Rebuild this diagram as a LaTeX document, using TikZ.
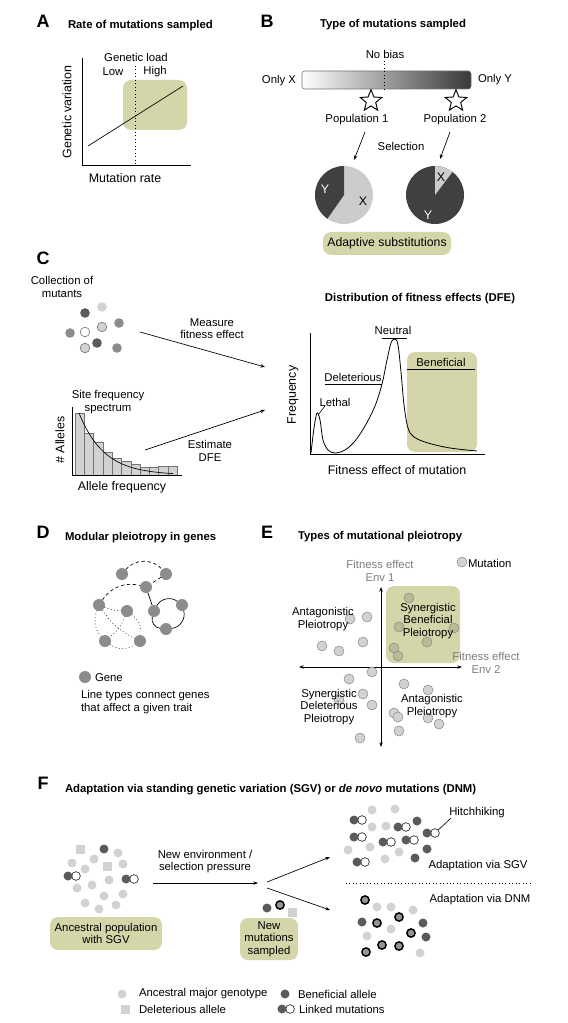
\documentclass[tikz,border=0pt]{standalone}
\usepackage{fontspec}
\setmainfont{Liberation Sans}
\usetikzlibrary{shapes.geometric,arrows.meta}
\definecolor{olivebox}{RGB}{213,213,170}
\definecolor{dkdot}{RGB}{90,90,90}
\definecolor{ltdot}{RGB}{210,210,210}
\definecolor{mddot}{RGB}{140,140,140}
\definecolor{genec}{RGB}{140,140,140}
\definecolor{txtgray}{RGB}{125,125,125}
\definecolor{piedark}{RGB}{64,64,64}
\definecolor{pielight}{RGB}{204,204,204}
\definecolor{mutin}{RGB}{186,186,150}
\begin{document}
\begin{tikzpicture}[x=0.75pt,y=-0.75pt,
  every node/.style={font=\fontsize{8.5}{9.2}\selectfont, inner sep=0pt, outer sep=0pt},
  paneltitle/.style={font=\fontsize{8.5}{10}\selectfont\bfseries, anchor=west},
  panelletter/.style={font=\fontsize{13.5}{15}\selectfont\bfseries},
  axlab/.style={font=\fontsize{9.3}{11}\selectfont},
  boxlab/.style={fill=olivebox, rounded corners=6pt, align=center},
  thinline/.style={line width=0.55pt},
  arr/.style={-{Stealth[length=3.5pt,width=2.6pt]}, line width=0.5pt},
  cdot/.style={circle, minimum size=7.2pt},
  gene/.style={circle, fill=genec, minimum size=9pt},
  mut/.style={circle, fill=ltdot, draw=black!45, line width=0.4pt, minimum size=7.5pt},
  mutinbox/.style={circle, fill=mutin, draw=black!45, line width=0.4pt, minimum size=7.5pt},
  fl/.style={circle, fill=ltdot, minimum size=6.75pt},
  fd/.style={circle, fill=dkdot, minimum size=6.75pt},
  fw/.style={circle, fill=white, draw=black, line width=0.4pt, minimum size=6.5pt},
  fsq/.style={rectangle, fill=ltdot, minimum size=6.75pt},
  fnew/.style={circle, fill=black!42, draw=black, line width=1.1pt, minimum size=6.2pt},
  mystar/.style={star, star points=5, star point ratio=2.3, draw, line width=0.7pt, minimum size=17pt}]
\useasboundingbox (0,0) rectangle (567,1023);

% ---------------- A
\node[panelletter] (lA) at (43,21) {A};
\node[paneltitle] (tA) at (68,26) {Rate of mutations sampled};
\fill[olivebox, rounded corners=6pt] (123,80) rectangle (187,130);
\coordinate (Atop) at (82,58);
\coordinate (Aorig) at (82,165);
\coordinate (Aright) at (191,165);
\draw[thinline] (Atop) -- (Aorig) -- (Aright);
\coordinate (Ad1) at (135,66);
\coordinate (Ad2) at (135,165);
\draw[dotted, line width=0.6pt] (Ad1) -- (Ad2);
\coordinate (Al1) at (88,146);
\coordinate (Al2) at (183,86);
\draw[line width=0.5pt] (Al1) -- (Al2);
\node[axlab, rotate=90] (yA) at (67,112) {Genetic variation};
\node[axlab] (xA) at (125,178) {Mutation rate};
\node (gl) at (136,57) {Genetic load};
\node (low) at (113,72) {Low};
\node (high) at (155,72) {High};

% ---------------- B
\node[panelletter] (lB) at (267,21) {B};
\node[paneltitle, anchor=center] (tB) at (393,25) {Type of mutations sampled};
\node (nob) at (385,54) {No bias};
\shade[left color=white, right color=black!78, draw=black!55, line width=0.4pt, rounded corners=2pt] (302,71) rectangle (471,89);
\coordinate (Bd1) at (384,61);
\coordinate (Bd2) at (384,89);
\draw[dotted, line width=0.6pt] (Bd1) -- (Bd2);
\node[anchor=east] (ox) at (296,81) {Only X};
\node[anchor=west] (oy) at (478,80) {Only Y};
\node[mystar] (st1) at (371,101) {};
\node[mystar] (st2) at (456,101) {};
\node (pop1) at (357,120) {Population 1};
\node (pop2) at (455,120) {Population 2};
\node (sel) at (401,146) {Selection};
\coordinate (b1s) at (365,132);
\coordinate (b1e) at (354,160);
\coordinate (b2s) at (450,132);
\coordinate (b2e) at (440,159);
\draw[arr] (b1s) -- (b1e);
\draw[arr] (b2s) -- (b2e);
\coordinate (pie1) at (344,195);
\coordinate (pie2) at (435,195);
\fill[pielight] (pie1) circle[radius=29];
\fill[piedark] (pie1) -- ++(-90:29) arc[start angle=-90, end angle=-235, radius=29] -- cycle;
\fill[piedark] (pie2) circle[radius=29];
\fill[pielight] (pie2) -- ++(-53:29) arc[start angle=-53, end angle=-90, radius=29] -- cycle;
\node[axlab, text=white] (py1) at (325,189) {Y};
\node[axlab] (px1) at (363,201) {X};
\node[axlab] (px2) at (441,177) {X};
\node[axlab, text=white] (py2) at (428,215) {Y};
\node[boxlab, font=\fontsize{9.2}{11}\selectfont, minimum width=96pt, minimum height=17.25pt] (adapt) at (387,243.5) {Adaptive substitutions};

% ---------------- C
\node[panelletter] (lC) at (43,258) {C};
\node[align=center] (coll) at (62,287) {Collection of\\mutants};
\node[cdot, fill=dkdot] (cd1) at (85,313) {};
\node[cdot, fill=ltdot] (cd2) at (102,307) {};
\node[cdot, fill=mddot] (cd3) at (119,323) {};
\node[cdot, fill=mddot] (cd4) at (70,333) {};
\node[cdot, fill=white, draw=black!60, line width=0.4pt] (cd5) at (85,332) {};
\node[cdot, fill=ltdot, draw=black!60, line width=0.4pt] (cd6) at (102,327) {};
\node[cdot, fill=dkdot] (cd7) at (97,343) {};
\node[cdot, fill=ltdot, draw=black!60, line width=0.4pt] (cd8) at (85,348) {};
\node[cdot, fill=mddot] (cd9) at (117,348) {};
\node[align=center] (meas) at (212,329) {Measure\\fitness effect};
\coordinate (c1s) at (140,332);
\coordinate (c1e) at (265,367);
\draw[arr] (c1s) -- (c1e);
\coordinate (c2s) at (145,450);
\coordinate (c2e) at (265,410);
\draw[arr] (c2s) -- (c2e);
\node[align=center] (est) at (210,451) {Estimate\\DFE};
% histogram
\foreach \h [count=\i] in {413,433,442,452,458,461,464,467,467,466,466} {
  \draw[fill=ltdot, draw=black!55, line width=0.4pt] ({75+(\i-1)*9.3},475) rectangle ({75+\i*9.3},\h);
}
\coordinate (Htop) at (72,407);
\coordinate (Horig) at (72,475);
\coordinate (Hright) at (182,475);
\draw[thinline] (Htop) -- (Horig) -- (Hright);
\draw[line width=0.5pt] plot[domain=79:173, samples=40] (\x,{475-62*exp(-(\x-79)/25)});
\node[align=center] (sfs) at (108,402) {Site frequency\\spectrum};
\node[axlab, rotate=90] (yC) at (60,440) {\# Alleles};
\node[axlab] (xC) at (122,487) {Allele frequency};
% DFE
\node[paneltitle, anchor=center] (tC) at (420,299) {Distribution of fitness effects (DFE)};
\fill[olivebox, rounded corners=6pt] (407,352) rectangle (477,452);
\coordinate (Dtop) at (310,333);
\coordinate (Dorig) at (310,454);
\coordinate (Dright) at (485,454);
\draw[thinline] (Dtop) -- (Dorig) -- (Dright);
\draw[line width=0.6pt] plot[smooth, tension=0.55] coordinates {(311,453) (314,428) (317,413) (320,420) (323,440) (328,450) (335,453) (345,450) (355,441) (365,426) (375,406) (382,384) (387,360) (391,343) (395,339) (398,345) (401,372) (404,405) (408,428) (414,437) (428,443) (450,448) (477,451)};
\node (ben) at (441,362) {Beneficial};
\coordinate (bu1) at (407,369);
\coordinate (bu2) at (475,369);
\draw[thinline] (bu1) -- (bu2);
\node (neu) at (393,330) {Neutral};
\coordinate (nu1) at (382,338);
\coordinate (nu2) at (407,338);
\draw[thinline] (nu1) -- (nu2);
\node (del) at (353,377) {Deleterious};
\coordinate (du1) at (325,384);
\coordinate (du2) at (382,384);
\draw[thinline] (du1) -- (du2);
\node (leth) at (335,402) {Lethal};
\coordinate (lp1) at (325,406);
\coordinate (lp2) at (318,415);
\draw[line width=0.45pt] (lp1) -- (lp2);
\node[axlab, rotate=90] (yD) at (293,395) {Frequency};
\node[axlab] (xD) at (397,470) {Fitness effect of mutation};

% ---------------- D
\node[panelletter] (lD) at (43,532) {D};
\node[paneltitle] (tD) at (65,538) {Modular pleiotropy in genes};
\node[gene] (g1) at (122,574) {};
\node[gene] (g2) at (166,574) {};
\node[gene] (g3) at (146,587) {};
\node[gene] (g4) at (99,605) {};
\node[gene] (g5) at (127,611) {};
\node[gene] (g6) at (154,611) {};
\node[gene] (g7) at (182,605) {};
\node[gene] (g8) at (166,629) {};
\node[gene] (g9) at (105,641) {};
\node[gene] (g10) at (140,641) {};
\begin{scope}[line width=0.5pt]
\draw[dash pattern=on 2.5pt off 2pt] (g1) to[bend left=50] (g2);
\draw[dash pattern=on 2.5pt off 2pt] (g2) -- (g3);
\draw[dash pattern=on 2.5pt off 2pt] (g4) to[bend left=35] (g3);
\draw (g3) -- (g6);
\draw (g6) to[bend left=50] (g7);
\draw (g7) to[bend left=50] (g8);
\draw (g8) to[bend left=50] (g6);
\draw[dotted] (g4) to[bend right=10] (g5);
\draw[dotted] (g4) to[bend right=30] (g9);
\draw[dotted] (g4) to[bend right=15] (g10);
\draw[dotted] (g5) to[bend left=15] (g9);
\draw[dotted] (g5) to[bend left=30] (g10);
\draw[dotted] (g9) to[bend right=35] (g10);
\end{scope}
\node[gene] (gleg) at (85,677) {};
\node[anchor=west] (glegt) at (95,678) {Gene};
\node[anchor=west, align=left] (gtxt) at (81,702) {Line types connect genes\\that affect a given trait};

% ---------------- E
\node[panelletter] (lE) at (267,532) {E};
\node[paneltitle] (tE) at (298,537) {Types of mutational pleiotropy};
\fill[olivebox, rounded corners=6pt] (386,586) rectangle (460,663);
\coordinate (Eleft) at (299,667);
\coordinate (Eright) at (462,667);
\coordinate (Etop) at (381,587);
\coordinate (Ebot) at (381,747);
\draw[{Stealth[length=3.5pt,width=2.6pt]}-{Stealth[length=3.5pt,width=2.6pt]}, line width=0.6pt] (Eleft) -- (Eright);
\draw[{Stealth[length=3.5pt,width=2.6pt]}-{Stealth[length=3.5pt,width=2.6pt]}, line width=0.6pt] (Etop) -- (Ebot);
\foreach \x/\y [count=\i] in {367/617,350/619,322/646,339/651,363/642,372/672,349/679,404/684,428/690,363/694,339/700,372/705,394/713,398/717,428/718,439/724,399/731,360/738} {
  \node[mut] (em\i) at (\x,\y) {};
}
\foreach \x/\y [count=\i] in {409/598,399/627,454/628,427/642,394/648,398/656} {
  \node[mutinbox] (eb\i) at (\x,\y) {};
}
\node[text=txtgray, align=center] (fe1) at (380,571) {Fitness effect\\Env 1};
\node[text=txtgray, align=center] (fe2) at (486,663) {Fitness effect\\Env 2};
\node[align=center] (sbp) at (428,621) {Synergistic\\Beneficial\\Pleiotropy};
\node[align=center] (ap1) at (323,619) {Antagonistic\\Pleiotropy};
\node[align=center] (sdp) at (329,707) {Synergistic\\Deleterious\\Pleiotropy};
\node[align=center] (ap2) at (432,706) {Antagonistic\\Pleiotropy};
\node[mut] (mleg) at (462,562) {};
\node[anchor=west] (mlegt) at (468,563) {Mutation};

% ---------------- F
\node[panelletter] (lF) at (43,783) {F};
\node[paneltitle] (tF) at (65,790) {Adaptation via standing genetic variation (SGV) or \textit{de novo} mutations (DNM)};
% ancestral population
\node[fsq] (as1) at (80,849) {};
\node[fsq] (as2) at (107,866) {};
\node[fd] (ad1) at (104,849) {};
\foreach \x/\y [count=\i] in {118/853,94/859,72/863,123/864,85/869,109/880,92/885,77/888,123/894,104/896,85/903,116/905,99/909} {
  \node[fl] (al\i) at (\x,\y) {};
}
\foreach \x/\y [count=\i] in {68/876,126/879} {
  \node[fw] (alw\i) at (\x+8,\y) {};
  \node[fd] (ald\i) at (\x,\y) {};
}
\node[boxlab, minimum width=84pt, minimum height=24.75pt] (anc) at (106,933.5) {Ancestral population\\with SGV};
\node[align=center] (newenv) at (205,861.5) {New environment /\\selection pressure};
\coordinate (fa1) at (153,883);
\coordinate (fa2) at (258,883);
\draw[arr] (fa1) -- (fa2);
\coordinate (fu1) at (267,882);
\coordinate (fu2) at (330,857);
\coordinate (fd1) at (267,888);
\coordinate (fd2) at (330,910);
\draw[arr] (fu1) -- (fu2);
\draw[arr] (fd1) -- (fd2);
% new mutations
\node[fd] (nm1) at (267,908) {};
\node[fnew] (nm2) at (280,905) {};
\node[fsq] (nm3) at (292,912) {};
\node[boxlab, minimum width=43.5pt, minimum height=31.5pt] (newm) at (269,939) {New\\mutations\\sampled};
% SGV outcome
\foreach \x/\y [count=\i] in {372/810,395/809,372/827,386/826,348/850,370/847,399/852,385/859} {
  \node[fl] (sl\i) at (\x,\y) {};
}
\foreach \x/\y [count=\i] in {417/821,427/849,415/858} {
  \node[fd] (sd\i) at (\x,\y) {};
}
\foreach \x/\y [count=\i] in {354/820,398/827,427/833,354/837,383/842,406/840,357/862} {
  \node[fw] (slw\i) at (\x+8,\y) {};
  \node[fd] (sld\i) at (\x,\y) {};
}
\node (hitch) at (477,813) {Hitchhiking};
\coordinate (hp) at (451,818);
\draw[line width=0.45pt] (slw3) -- (hp);
\node (asgv) at (478,866) {Adaptation via SGV};
\coordinate (sep1) at (346,883);
\coordinate (sep2) at (532,883);
\draw[dotted, line width=0.6pt] (sep1) -- (sep2);
\node (adnm) at (480,900) {Adaptation via DNM};
% DNM outcome
\foreach \x/\y [count=\i] in {365/900,377/923,399/917,411/933,382/945,399/946,366/952} {
  \node[fnew] (dn\i) at (\x,\y) {};
}
\foreach \x/\y [count=\i] in {377/907,391/907,413/910,391/929,367/936,420/953} {
  \node[fl] (dl\i) at (\x,\y) {};
}
\foreach \x/\y [count=\i] in {362/922,423/923,426/937} {
  \node[fd] (dd\i) at (\x,\y) {};
}
% legend
\node[fl] (lg1) at (122,994) {};
\node[anchor=west] (lg1t) at (139,994) {Ancestral major genotype};
\node[fd] (lg2) at (285,994) {};
\node[anchor=west] (lg2t) at (298,994) {Beneficial allele};
\node[fsq] (lg3) at (125,1009) {};
\node[anchor=west] (lg3t) at (139,1009) {Deleterious allele};
\node[fw] (lg4w) at (290,1009) {};
\node[fd] (lg4) at (282,1009) {};
\node[anchor=west] (lg4t) at (299,1009) {Linked mutations};
\end{tikzpicture}
\end{document}
